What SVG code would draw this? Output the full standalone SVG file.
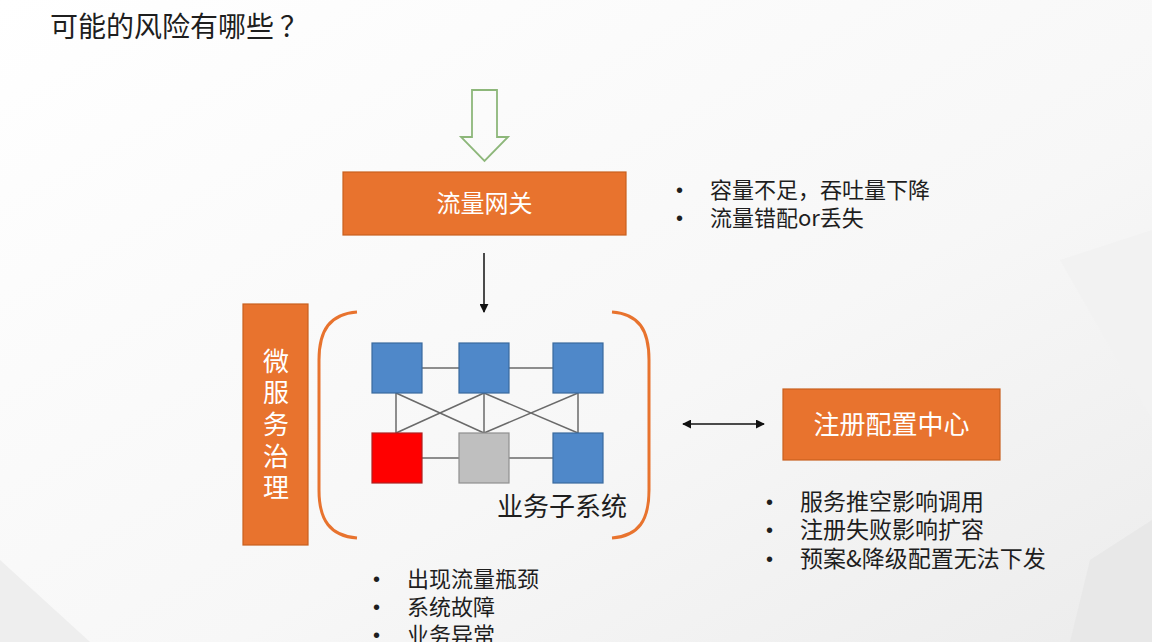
<svg xmlns="http://www.w3.org/2000/svg" width="1152" height="642" viewBox="0 0 1152 642">
<defs>
<linearGradient id="bg" x1="0" y1="0" x2="1" y2="1">
<stop offset="0" stop-color="#ffffff"/>
<stop offset="0.6" stop-color="#f7f7f7"/>
<stop offset="1" stop-color="#ececec"/>
</linearGradient>
<marker id="ah" viewBox="0 0 10 10" refX="9" refY="5" markerWidth="9" markerHeight="9" markerUnits="userSpaceOnUse" orient="auto-start-reverse">
<path d="M0,0 L10,5 L0,10 z" fill="#111"/>
</marker>
<style>
.t{font-family:"Noto Sans CJK SC","Liberation Sans",sans-serif;fill:#1e1e1e}
.w{font-family:"Noto Sans CJK SC","Liberation Sans",sans-serif;fill:#ffffff}
.box{fill:#E8732E;stroke:#C8601F;stroke-width:1.2}
.blue{fill:#4F88C9;stroke:#3A6A9E;stroke-width:1.2}
.link{stroke:#6a6a6a;stroke-width:1.5;fill:none}
.brk{stroke:#E8732E;stroke-width:3;fill:none}
.b{font-family:"Liberation Sans",sans-serif;fill:#1e1e1e}
</style>
</defs>
<rect width="1152" height="642" fill="url(#bg)"/>
<polygon points="0,560 90,642 0,642" fill="#eeeeee"/>
<polygon points="1060,260 1152,230 1152,420" fill="#f2f2f2"/>
<polygon points="1090,560 1152,520 1152,642 1070,642" fill="#e8e8e8"/>

<text class="t" x="50" y="37" font-size="28">可能的风险有哪些<tspan dx="6">？</tspan></text>

<g id="input-arrow">
<polygon points="472,90 497,90 497,137 508,137 484.5,161 461,137 472,137" fill="none" stroke="#8DB77A" stroke-width="1.8"/>
</g>

<g id="gateway">
<rect class="box" x="343" y="172" width="283" height="63"/>
<text class="w" x="484.5" y="212" font-size="24" text-anchor="middle">流量网关</text>
</g>

<g id="gateway-notes">
<text class="b" x="676" y="197" font-size="20">•</text>
<text class="t" x="710" y="198" font-size="22">容量不足，吞吐量下降</text>
<text class="b" x="676" y="225" font-size="20">•</text>
<text class="t" x="710" y="226" font-size="22">流量错配or丢失</text>
</g>

<g id="governance">
<rect class="box" x="243" y="304" width="65" height="241"/>
<text class="w" x="276" y="371" font-size="26" text-anchor="middle">微</text>
<text class="w" x="276" y="402" font-size="26" text-anchor="middle">服</text>
<text class="w" x="276" y="434" font-size="26" text-anchor="middle">务</text>
<text class="w" x="276" y="466" font-size="26" text-anchor="middle">治</text>
<text class="w" x="276" y="497" font-size="26" text-anchor="middle">理</text>
</g>

<g id="subsystem">
<path class="brk" d="M357,312 C330,314 319,330 319,360 L319,490 C319,520 330,536 357,538"/>
<path class="brk" d="M612,312 C639,314 649,330 649,360 L649,490 C649,520 639,536 612,538"/>
<g class="links">
<line class="link" x1="422" y1="368" x2="459" y2="368"/>
<line class="link" x1="509" y1="368" x2="553" y2="368"/>
<line class="link" x1="422" y1="458" x2="459" y2="458"/>
<line class="link" x1="509" y1="458" x2="553" y2="458"/>
<line class="link" x1="396" y1="393" x2="396" y2="433"/>
<line class="link" x1="484" y1="393" x2="484" y2="433"/>
<line class="link" x1="578" y1="393" x2="578" y2="433"/>
<line class="link" x1="396" y1="393" x2="484" y2="433"/>
<line class="link" x1="484" y1="393" x2="396" y2="433"/>
<line class="link" x1="484" y1="393" x2="578" y2="433"/>
<line class="link" x1="578" y1="393" x2="484" y2="433"/>
</g>
<rect id="s1" class="blue" x="372" y="343" width="50" height="50"/>
<rect id="s2" class="blue" x="459" y="343" width="50" height="50"/>
<rect id="s3" class="blue" x="553" y="343" width="50" height="50"/>
<rect id="s4" x="372" y="433" width="50" height="50" fill="#FF0000" stroke="#B02020" stroke-width="1.2"/>
<rect id="s5" x="459" y="433" width="50" height="50" fill="#BFBFBF" stroke="#8f8f8f" stroke-width="1.2"/>
<rect id="s6" class="blue" x="553" y="433" width="50" height="50"/>
<text class="t" x="497" y="516" font-size="26">业务子系统</text>
</g>

<g id="subsystem-notes">
<text class="b" x="373" y="586" font-size="20">•</text>
<text class="t" x="407" y="587" font-size="22">出现流量瓶颈</text>
<text class="b" x="373" y="614" font-size="20">•</text>
<text class="t" x="407" y="615" font-size="22">系统故障</text>
<text class="b" x="373" y="642" font-size="20">•</text>
<text class="t" x="407" y="643" font-size="22">业务异常</text>
</g>

<g id="registry">
<rect class="box" x="783" y="389" width="217" height="71"/>
<text class="w" x="891.5" y="434" font-size="26" text-anchor="middle">注册配置中心</text>
</g>

<g id="registry-notes">
<text class="b" x="766" y="509" font-size="20">•</text>
<text class="t" x="800" y="510" font-size="23">服务推空影响调用</text>
<text class="b" x="766" y="537" font-size="20">•</text>
<text class="t" x="800" y="538" font-size="23">注册失败影响扩容</text>
<text class="b" x="766" y="566" font-size="20">•</text>
<text class="t" x="800" y="567" font-size="23">预案&amp;降级配置无法下发</text>
</g>

<g id="connectors">
<line x1="484" y1="253" x2="484" y2="312" stroke="#111" stroke-width="1.5" marker-end="url(#ah)"/>
<line x1="683" y1="424" x2="764" y2="424" stroke="#111" stroke-width="1.5" marker-start="url(#ah)" marker-end="url(#ah)"/>
</g>
</svg>
